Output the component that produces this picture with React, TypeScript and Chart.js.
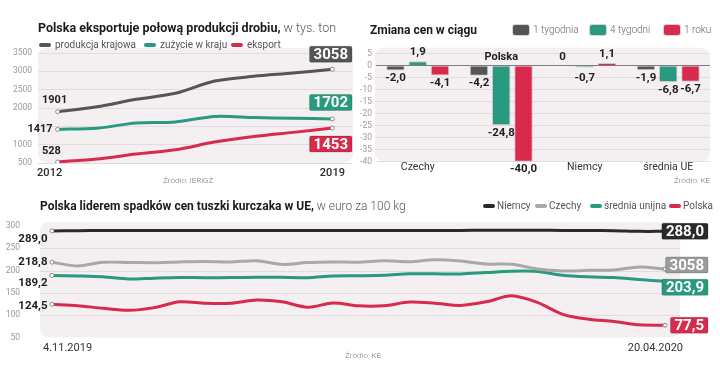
import React, { useEffect, useRef } from 'react';
import { Chart, registerables } from 'chart.js';

Chart.register(...registerables);

const W = 720;
const H = 371;
const FONT = 'Roboto, "Noto Sans", sans-serif';
Chart.defaults.font.family = FONT;

const DARK = '#555555';
const BLACK = '#2a2a2a';
const GREY = '#a8a8a8';
const GREY_BADGE = '#9b9b9b';
const TEAL = '#279a80';
const RED = '#d82a4c';
const BG = '#f4f0f2';
const GRID = '#e2dcdf';
const INK = '#1e1e1e';

// ---------- Chart 1: produkcja / zużycie / eksport (tys. ton)
const years = ['2012', '2013', '2014', '2015', '2016', '2017', '2018', '2019'];
const produkcjaKrajowa = [1901, 2035, 2237, 2400, 2735, 2864, 2954, 3058];
const zuzycieWKraju = [1417, 1450, 1590, 1620, 1770, 1740, 1720, 1702];
const eksport = [528, 609, 745, 860, 1070, 1220, 1335, 1453];

// ---------- Chart 2: zmiana cen (%)
const okresy = ['1 tygodnia', '4 tygodni', '1 roku'];
const kraje = ['Czechy', 'Polska', 'Niemcy', 'średnia UE'];
const zmiana1Tydzien = [-2.0, -4.2, 0, -1.9];
const zmiana4Tygodnie = [1.9, -24.8, -0.7, -6.8];
const zmiana1Rok = [-4.1, -40.0, 1.1, -6.7];

// ---------- Chart 3: ceny tuszki kurczaka (euro za 100 kg)
const tygodnie = [
  '4.11.2019', '11.11.2019', '18.11.2019', '25.11.2019', '2.12.2019', '9.12.2019', '16.12.2019',
  '23.12.2019', '30.12.2019', '6.01.2020', '13.01.2020', '20.01.2020', '27.01.2020', '3.02.2020',
  '10.02.2020', '17.02.2020', '24.02.2020', '2.03.2020', '9.03.2020', '16.03.2020', '23.03.2020',
  '30.03.2020', '6.04.2020', '13.04.2020', '20.04.2020',
];
const niemcy = [289, 289.5, 290, 290, 290, 290, 290, 290, 290, 290, 290, 290, 290, 290, 290, 290, 290, 290.5, 290.5, 290.5, 290, 290, 289.5, 288, 288];
const czechy = [218.8, 210.3, 218.6, 218.2, 217.7, 219.3, 220.4, 219.3, 222.2, 214, 218, 219.3, 219, 222.2, 220, 224.5, 221.5, 214.8, 214, 203.6, 199, 200.6, 201.3, 208, 203.6];
const sredniaUnijna = [189.2, 188, 186, 181, 183, 184.5, 184, 184.5, 185, 185, 184, 188, 188.5, 189.5, 193, 192.7, 192.5, 195.6, 198.5, 198, 189.5, 186, 184.5, 180, 176];
const polska = [124.5, 121.3, 115.5, 111, 117, 130, 126.7, 126.7, 134, 130, 117.8, 127.3, 121, 121.3, 129.5, 126.7, 122, 130, 143.5, 128.6, 102, 91, 86, 78.4, 77.5];
const etykietyKoncowe = ['288,0', '3058', '203,9', '77,5'];

const fmt = (v: number) => v.toFixed(1).replace('.', ',');
const fmtInt = (v: number) => String(Math.round(v));

function txt(ctx: CanvasRenderingContext2D, s: string, x: number, y: number, font: string, color: string, align: CanvasTextAlign = 'center') {
  ctx.save();
  ctx.font = font;
  ctx.fillStyle = color;
  ctx.textAlign = align;
  ctx.textBaseline = 'middle';
  ctx.fillText(s, x, y);
  ctx.restore();
}

function badgeRight(ctx: CanvasRenderingContext2D, s: string, right: number, cy: number, color: string) {
  ctx.save();
  ctx.font = `bold 15px ${FONT}`;
  const w = ctx.measureText(s).width + 8;
  const h = 16;
  const left = right - w;
  ctx.fillStyle = color;
  ctx.strokeStyle = 'rgba(0,0,0,0.18)';
  ctx.lineWidth = 1;
  ctx.beginPath();
  ctx.roundRect(left, cy - h / 2, w, h, 1.5);
  ctx.fill();
  ctx.stroke();
  ctx.fillStyle = '#ffffff';
  ctx.textAlign = 'center';
  ctx.textBaseline = 'middle';
  ctx.fillText(s, left + w / 2, cy + 1);
  ctx.restore();
}

function endPoints(n: number) {
  return (c: any) => (c.dataIndex === 0 || c.dataIndex === n - 1 ? 2 : 0);
}

function lineDs(label: string, data: number[], color: string, width = 3, tension = 0.3) {
  return {
    label,
    data,
    borderColor: color,
    backgroundColor: color,
    borderWidth: width,
    tension,
    pointRadius: endPoints(data.length),
    pointBackgroundColor: '#ffffff',
    pointBorderColor: '#8a8a8a',
    pointBorderWidth: 1,
  };
}

function roundBg(ctx: CanvasRenderingContext2D, x1: number, y1: number, x2: number, y2: number) {
  ctx.save();
  ctx.fillStyle = BG;
  ctx.beginPath();
  ctx.roundRect(x1, y1, x2 - x1, y2 - y1, 9);
  ctx.fill();
  ctx.restore();
}

function config1(): any {
  const n = years.length;
  return {
    type: 'line',
    data: {
      labels: years,
      datasets: [
        lineDs('produkcja krajowa', produkcjaKrajowa, DARK),
        lineDs('zużycie w kraju', zuzycieWKraju, TEAL),
        lineDs('eksport', eksport, RED),
      ],
    },
    options: {
      responsive: false,
      animation: false,
      layout: { padding: { left: 0, top: 53, right: W - 352, bottom: H - 163 } },
      plugins: { legend: { display: false }, tooltip: { enabled: false } },
      scales: {
        x: { display: false, offset: true },
        y: {
          min: 500,
          max: 3500,
          ticks: {
            stepSize: 500,
            autoSkip: false,
            callback: (v: number) => (v === 1500 ? '' : String(v)),
            font: { size: 8.5, family: FONT },
            color: '#9a9a9a',
            padding: 6,
          },
          grid: { color: GRID, drawTicks: false },
          border: { display: false },
          afterFit: (s: any) => { s.width = 38; },
        },
      },
    },
    plugins: [
      {
        id: 'bg1',
        beforeDraw(chart: any) {
          const a = chart.chartArea;
          roundBg(chart.ctx, a.left, a.top - 5, a.right + 1, a.bottom);
        },
      },
      {
        id: 'labels1',
        afterDatasetsDraw(chart: any) {
          const ctx = chart.ctx;
          const a = chart.chartArea;
          const p = (i: number, j: number) => chart.getDatasetMeta(i).data[j];
          const bold = `bold 11px ${FONT}`;
          txt(ctx, fmtInt(produkcjaKrajowa[0]), a.left + 4, p(0, 0).y - 11.5, bold, INK, 'left');
          txt(ctx, fmtInt(zuzycieWKraju[0]), p(1, 0).x - 5, p(1, 0).y, bold, INK, 'right');
          txt(ctx, fmtInt(eksport[0]), a.left + 4, p(2, 0).y - 11, bold, INK, 'left');
          badgeRight(ctx, fmtInt(produkcjaKrajowa[n - 1]), a.right, p(0, n - 1).y - 15, DARK);
          badgeRight(ctx, fmtInt(zuzycieWKraju[n - 1]), a.right, p(1, n - 1).y - 16.5, TEAL);
          badgeRight(ctx, fmtInt(eksport[n - 1]), a.right, p(2, n - 1).y + 16, RED);
          const xs = chart.scales.x;
          txt(ctx, years[0], xs.getPixelForValue(0) - 8, a.bottom + 10, `500 11px ${FONT}`, '#2a2a2a');
          txt(ctx, years[n - 1], xs.getPixelForValue(n - 1), a.bottom + 10, `500 11px ${FONT}`, '#2a2a2a');
        },
      },
    ],
  };
}

function config2(): any {
  const barStyle = { borderWidth: 1, borderColor: 'rgba(160,150,155,0.45)', borderRadius: 1.5 };
  return {
    type: 'bar',
    data: {
      labels: kraje,
      datasets: [
        { label: okresy[0], data: zmiana1Tydzien, backgroundColor: DARK, ...barStyle },
        { label: okresy[1], data: zmiana4Tygodnie, backgroundColor: TEAL, ...barStyle },
        { label: okresy[2], data: zmiana1Rok, backgroundColor: RED, ...barStyle },
      ],
    },
    options: {
      responsive: false,
      animation: false,
      categoryPercentage: 0.8,
      barPercentage: 0.83,
      layout: { padding: { left: 340, top: 53.7, right: W - 710, bottom: H - 161.7 } },
      plugins: { legend: { display: false }, tooltip: { enabled: false } },
      scales: {
        x: { display: false },
        y: {
          min: -40,
          max: 5,
          ticks: {
            stepSize: 5,
            autoSkip: false,
            callback: (v: number) => String(v),
            font: { size: 8.5, family: FONT },
            color: '#9a9a9a',
            padding: 4,
          },
          grid: {
            color: (c: any) => (c.tick && c.tick.value === 0 ? '#7d7d7d' : GRID),
            drawTicks: false,
          },
          border: { display: false },
          afterFit: (s: any) => { s.width = 36; },
        },
      },
    },
    plugins: [
      {
        id: 'bg2',
        beforeDraw(chart: any) {
          const a = chart.chartArea;
          roundBg(chart.ctx, a.left - 1, a.top - 6, a.right, a.bottom);
        },
      },
      {
        id: 'labels2',
        afterDatasetsDraw(chart: any) {
          const ctx = chart.ctx;
          const a = chart.chartArea;
          const y0 = chart.scales.y.getPixelForValue(0);
          chart.data.datasets.forEach((ds: any, i: number) => {
            chart.getDatasetMeta(i).data.forEach((el: any, j: number) => {
              const v = ds.data[j] as number;
              const s = v === 0 ? '0' : fmt(v);
              const cy = v >= 0 ? el.y - 8.7 : Math.max(el.y, y0 + 5) + 7.8;
              txt(ctx, s, el.x, cy, `bold 11.5px ${FONT}`, INK);
            });
          });
          const xs = chart.scales.x;
          kraje.forEach((k, j) => {
            const x = xs.getPixelForValue(j);
            if (k === 'Polska') txt(ctx, k, x, a.top + 4, `bold 11px ${FONT}`, INK);
            else txt(ctx, k, x, a.bottom + 5.5, `10.5px ${FONT}`, '#333333');
          });
        },
      },
    ],
  };
}

function config3(): any {
  const n = tygodnie.length;
  return {
    type: 'line',
    data: {
      labels: tygodnie,
      datasets: [
        lineDs('Niemcy', niemcy, BLACK, 3, 0.3),
        lineDs('Czechy', czechy, GREY, 3, 0.3),
        lineDs('średnia unijna', sredniaUnijna, TEAL, 3, 0.3),
        lineDs('Polska', polska, RED, 3, 0.3),
      ],
    },
    options: {
      responsive: false,
      animation: false,
      layout: { padding: { left: 0, top: 226, right: W - 665, bottom: H - 337.5 } },
      plugins: { legend: { display: false }, tooltip: { enabled: false } },
      scales: {
        x: { display: false, offset: false },
        y: {
          min: 50,
          max: 300,
          ticks: {
            stepSize: 50,
            autoSkip: false,
            font: { size: 8.5, family: FONT },
            color: '#9a9a9a',
            padding: 24,
          },
          grid: { display: false },
          border: { display: false },
          afterFit: (s: any) => { s.width = 52; },
        },
      },
    },
    plugins: [
      {
        id: 'bg3',
        beforeDraw(chart: any) {
          const ctx = chart.ctx;
          const a = chart.chartArea;
          roundBg(ctx, 40, a.top - 4, 680, a.bottom);
          const ys = chart.scales.y;
          ctx.save();
          ctx.strokeStyle = GRID;
          ctx.lineWidth = 1;
          ys.ticks.forEach((t: any) => {
            if (t.value <= 50 || t.value >= 300) return;
            const y = Math.round(ys.getPixelForValue(t.value)) + 0.5;
            ctx.beginPath();
            ctx.moveTo(40, y);
            ctx.lineTo(680, y);
            ctx.stroke();
          });
          ctx.restore();
        },
      },
      {
        id: 'labels3',
        afterDatasetsDraw(chart: any) {
          const ctx = chart.ctx;
          const a = chart.chartArea;
          const series = [niemcy, czechy, sredniaUnijna, polska];
          const colors = [BLACK, GREY_BADGE, TEAL, RED];
          const startOff = [8.5, 0, 8, 1.5];
          const endOff = [0, -4, 6, 0];
          series.forEach((d, i) => {
            const meta = chart.getDatasetMeta(i);
            const p0 = meta.data[0];
            const pn = meta.data[n - 1];
            txt(ctx, fmt(d[0]), p0.x - 4.5, p0.y + startOff[i], `bold 11.5px ${FONT}`, INK, 'right');
            badgeRight(ctx, etykietyKoncowe[i], a.right + 43, pn.y + endOff[i], colors[i]);
          });
          const xs = chart.scales.x;
          txt(ctx, tygodnie[0], xs.getPixelForValue(0) - 9, a.bottom + 10.5, `11px ${FONT}`, '#333333', 'left');
          txt(ctx, tygodnie[n - 1], xs.getPixelForValue(n - 1) + 18, a.bottom + 10.5, `11px ${FONT}`, '#333333', 'right');
        },
      },
    ],
  };
}

const abs = (left: number, top: number, extra: React.CSSProperties = {}): React.CSSProperties => ({
  position: 'absolute',
  left,
  top,
  whiteSpace: 'nowrap',
  ...extra,
});

function LineKey({ x, y, color, label, textX }: { x: number; y: number; color: string; label: string; textX: number }) {
  return (
    <>
      <div style={abs(x, y - 1.5, { width: 12, height: 3.5, background: color, borderRadius: 2 })} />
      <div style={abs(textX, y - 6, { fontSize: 10, lineHeight: '12px', color: '#555', fontWeight: 400 })}>{label}</div>
    </>
  );
}

function BoxKey({ x, y, color, label, textX }: { x: number; y: number; color: string; label: string; textX: number }) {
  return (
    <>
      <div style={abs(x, y - 5, { width: 16, height: 10, background: color, borderRadius: 2, boxShadow: '0 0 0 1px rgba(170,160,165,0.45)' })} />
      <div style={abs(textX, y - 6, { fontSize: 10, lineHeight: '12px', color: '#666', fontWeight: 300 })}>{label}</div>
    </>
  );
}

export default function App() {
  const c1 = useRef<HTMLCanvasElement>(null);
  const c2 = useRef<HTMLCanvasElement>(null);
  const c3 = useRef<HTMLCanvasElement>(null);

  useEffect(() => {
    const charts = [
      new Chart(c1.current!, config1()),
      new Chart(c2.current!, config2()),
      new Chart(c3.current!, config3()),
    ];
    return () => charts.forEach((c) => c.destroy());
  }, []);

  const canvasStyle: React.CSSProperties = { position: 'absolute', left: 0, top: 0, width: W, height: H };

  return (
    <div style={{ position: 'absolute', left: 0, top: 0, width: W, height: H, overflow: 'hidden', background: '#fff', fontFamily: FONT }}>
      <canvas ref={c1} width={W} height={H} style={canvasStyle} />
      <canvas ref={c2} width={W} height={H} style={canvasStyle} />
      <canvas ref={c3} width={W} height={H} style={canvasStyle} />

      <div style={abs(38, 21, { fontSize: 12.5, lineHeight: '14px', color: '#1b1b1b' })}>
        <span style={{ fontWeight: 700 }}>Polska eksportuje połową produkcji drobiu,</span>
        <span style={{ fontWeight: 300, color: '#555' }}> w tys. ton</span>
      </div>
      <LineKey x={39} y={44.5} color={DARK} label="produkcja krajowa" textX={55} />
      <LineKey x={144} y={44.5} color={TEAL} label="zużycie w kraju" textX={160} />
      <LineKey x={231} y={44.5} color={RED} label="eksport" textX={247} />
      <div style={abs(163, 176, { fontSize: 8, lineHeight: '10px', color: '#777', fontWeight: 300 })}>Źródło: IERiGŻ</div>

      <div style={abs(370, 23, { fontSize: 12, lineHeight: '14px', color: '#1b1b1b', fontWeight: 700 })}>Zmiana cen w ciągu</div>
      <BoxKey x={513} y={30} color={DARK} label={okresy[0]} textX={533} />
      <BoxKey x={590} y={30} color={TEAL} label={okresy[1]} textX={610} />
      <BoxKey x={664} y={30} color={RED} label={okresy[2]} textX={684} />
      <div style={abs(674, 176, { fontSize: 8, lineHeight: '10px', color: '#777', fontWeight: 300 })}>Źródło: KE</div>

      <div style={abs(40, 199, { fontSize: 12, lineHeight: '14px', color: '#1b1b1b' })}>
        <span style={{ fontWeight: 700 }}>Polska liderem spadków cen tuszki kurczaka w UE,</span>
        <span style={{ fontWeight: 300, color: '#555' }}> w euro za 100 kg</span>
      </div>
      <LineKey x={483} y={205.7} color={BLACK} label="Niemcy" textX={497} />
      <LineKey x={535} y={205.7} color={GREY} label="Czechy" textX={549} />
      <LineKey x={590} y={205.7} color={TEAL} label="średnia unijna" textX={604} />
      <LineKey x={669} y={205.7} color={RED} label="Polska" textX={683} />
      <div style={abs(345, 351, { fontSize: 8, lineHeight: '10px', color: '#777', fontWeight: 300 })}>Źródło: KE</div>
    </div>
  );
}
